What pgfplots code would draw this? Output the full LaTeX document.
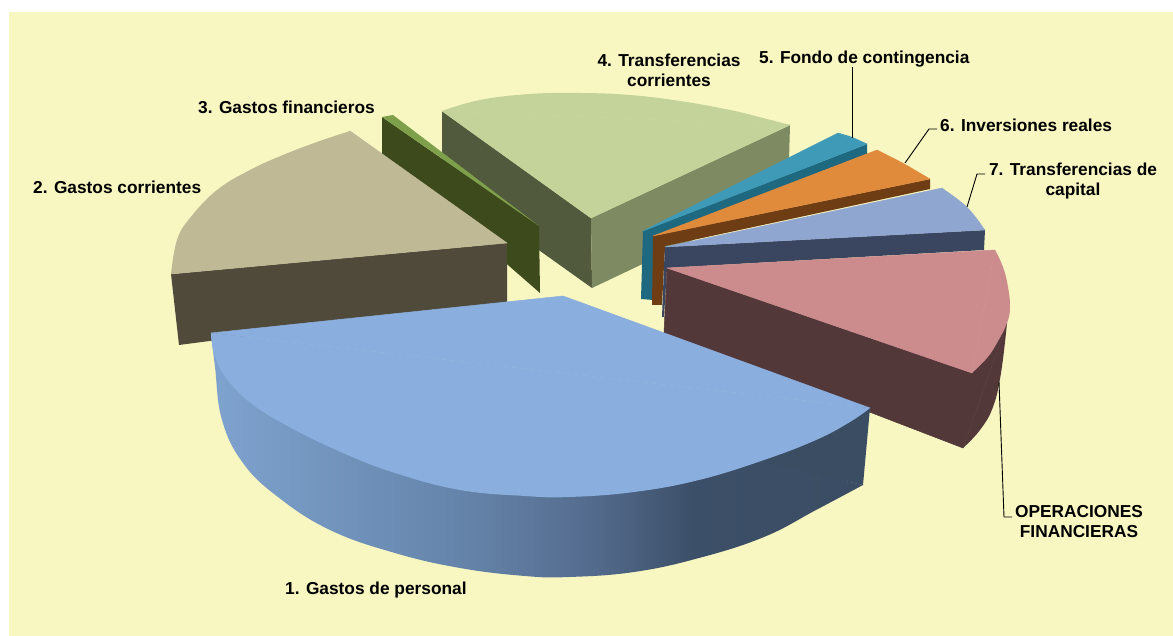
\documentclass[border=0pt]{standalone}
\usepackage{pgfplots}
\pgfplotsset{compat=1.18}
\usepackage{fontspec}
\setmainfont{Liberation Sans}
\definecolor{bg}{HTML}{F8F6C1}
\definecolor{blT}{HTML}{8AAEDD}
\definecolor{tanT}{HTML}{C0B996}
\definecolor{tanS}{HTML}{504A3A}
\definecolor{grT}{HTML}{7FA04A}
\definecolor{grS}{HTML}{3C4A1C}
\definecolor{lgT}{HTML}{C3D39A}
\definecolor{lgL}{HTML}{525A3E}
\definecolor{lgR}{HTML}{7D8A62}
\definecolor{teT}{HTML}{3F9AB8}
\definecolor{teS}{HTML}{1E6880}
\definecolor{orT}{HTML}{E08A3C}
\definecolor{orS}{HTML}{6E3D14}
\definecolor{peT}{HTML}{8FA6D0}
\definecolor{peS}{HTML}{3A4560}
\definecolor{piT}{HTML}{CC8C8E}
\definecolor{piS}{HTML}{53383A}
\definecolor{bsA}{HTML}{7FA3CF}
\definecolor{bsB}{HTML}{6E90B8}
\definecolor{bsC}{HTML}{6482A8}
\definecolor{bsD}{HTML}{546C8E}
\definecolor{bsE}{HTML}{3C4F68}
\definecolor{bsF}{HTML}{3A4D63}
\pgfdeclarehorizontalshading{blueside}{100bp}{
 color(0bp)=(bsA); color(25bp)=(bsA); color(37bp)=(bsB); color(45bp)=(bsC);
 color(54bp)=(bsD); color(62bp)=(bsE); color(75bp)=(bsF); color(100bp)=(bsF)}
\tikzset{lab/.style={font=\fontsize{17.3}{20}\selectfont\bfseries,inner sep=0pt,align=center,text=black}}
\pgfplotsset{arc/.style={draw=none,smooth,tension=0.7}}
\begin{document}
\begin{tikzpicture}
\begin{axis}[width=1173pt,height=636pt,scale only axis,xmin=0,xmax=1173,ymin=0,ymax=636,y dir=reverse,
 axis lines=none,no markers,clip=true,line join=round]
\addplot[fill=white,draw=none] coordinates {(0,0)(1173,0)(1173,636)(0,636)};
\addplot[fill=bg,draw=none] coordinates {(9,12)(1173,12)(1173,636)(9,636)};
% slice 4
\addplot[fill=lgL,draw=none] coordinates {(442,111)(591,218)(592,288)(442,181)};
\addplot[fill=lgR,draw=none] coordinates {(591,218)(790,125)(788,195)(592,288)};
\addplot[fill=lgT,arc] coordinates {(442,111)(480,100)(530,94)(580,93)(630,95)(680,101)(730,110)(763,118)(790,125)};
\addplot[fill=lgT,draw=lgT,line width=0.5pt] coordinates {(442,111)(790,125)(591,218)} -- cycle;
% slice 3
\addplot[fill=grS,draw=none] coordinates {(382,117)(539,226)(540,293)(382,155)};
\addplot[fill=grT,draw=none] coordinates {(382,117)(393,115)(539,226)};
% slice 2
\addplot[fill=tanS,draw=none] coordinates {(171,274)(507,243)(507,302)(179,345)};
\addplot[fill=tanT,arc] coordinates {(350,131)(317,142)(283,155)(250,170)(217,190)(190,218)(177,240)(171,274)};
\addplot[fill=tanT,draw=tanT,line width=0.5pt] coordinates {(350,131)(171,274)(507,243)} -- cycle;
% slice 5
\addplot[fill=teS,draw=none] coordinates {(643,231)(867,144)(867,154)(655,236)(653,300)(641,299)};
\addplot[fill=teT,arc] coordinates {(838,133)(852,137)(867,144)};
\addplot[fill=teT,draw=teT,line width=0.4pt] coordinates {(643,231)(838,133)(867,144)} -- cycle;
% slice 6
\addplot[fill=orS,draw=none] coordinates {(653,236)(930,179)(930,189)(665,246)(662,305)(652,305)};
\addplot[fill=orT,arc] coordinates {(877,150)(903,163)(930,179)};
\addplot[fill=orT,draw=orT,line width=0.4pt] coordinates {(653,236)(877,150)(930,179)} -- cycle;
% slice 7
\addplot[fill=peS,draw=none] coordinates {(665,247)(985,230)(984,250)(667,268)(664,317)(662,317)(664,266)};
\addplot[fill=peT,arc] coordinates {(942,188)(967,207)(985,230)};
\addplot[fill=peT,draw=peT,line width=0.4pt] coordinates {(665,247)(942,188)(985,230)} -- cycle;
% operaciones
\addplot[fill=piS,arc] coordinates {(1007,323)(1001,373)(993,407)(980,430)(963,448)};
\addplot[fill=piS,draw=piS,line width=0.5pt] coordinates {(667,268)(972,373)(1007,323)(963,448)(664,333)} -- cycle;
\addplot[fill=piT,arc] coordinates {(995,250)(1003,267)(1008,287)(1010,307)(1007,323)(997,343)(987,358)(972,373)};
\addplot[fill=piT,draw=piT,line width=0.5pt] coordinates {(667,268)(995,250)(972,373)} -- cycle;
% slice 1
\addplot[fill=bsF,draw=none] coordinates {(700,450)(863,485)(870,408)};
\addplot[shade,shading=blueside,arc] coordinates {(211,333)(215,367)(222,420)(243,463)(278,497)(330,530)(395,553)(460,568)(525,576)(569,577)(634,572)(699,558)(764,537)(816,510)(863,485)};
\addplot[fill=blT,arc] coordinates {(211,333)(215,357)(230,383)(256,407)(295,430)(343,453)(395,473)(460,490)(525,496)(569,497)(634,492)(699,480)(764,460)(816,440)(850,422)(870,408)};
\addplot[fill=blT,draw=blT,line width=0.5pt] coordinates {(211,333)(563,296)(870,408)} -- cycle;
% leaders
\addplot[black,line width=0.9pt] coordinates {(852,138)(852,67)};
\addplot[black,line width=0.9pt] coordinates {(905,163)(929,129)(937,129)};
\addplot[black,line width=0.9pt] coordinates {(967,207)(977,174)(985,174)};
\addplot[black,line width=0.9pt] coordinates {(999,382)(1004,517)(1012,517)};
% labels
\node[lab,anchor=west] at (axis cs:198,107) {3. Gastos financieros};
\node[lab,anchor=west] at (axis cs:33,187) {2. Gastos corrientes};
\node[lab] at (axis cs:669,70) {4. Transferencias\\corrientes};
\node[lab,anchor=west] at (axis cs:759,59) {5. Fondo de contingencia};
\node[lab,anchor=west] at (axis cs:940,125) {6. Inversiones reales};
\node[lab] at (axis cs:1073,181) {7. Transferencias de\\capital};
\node[lab] at (axis cs:1079,522) {OPERACIONES\\FINANCIERAS};
\node[lab,anchor=west] at (axis cs:285,590) {1. Gastos de personal};
\end{axis}
\end{tikzpicture}
\end{document}
